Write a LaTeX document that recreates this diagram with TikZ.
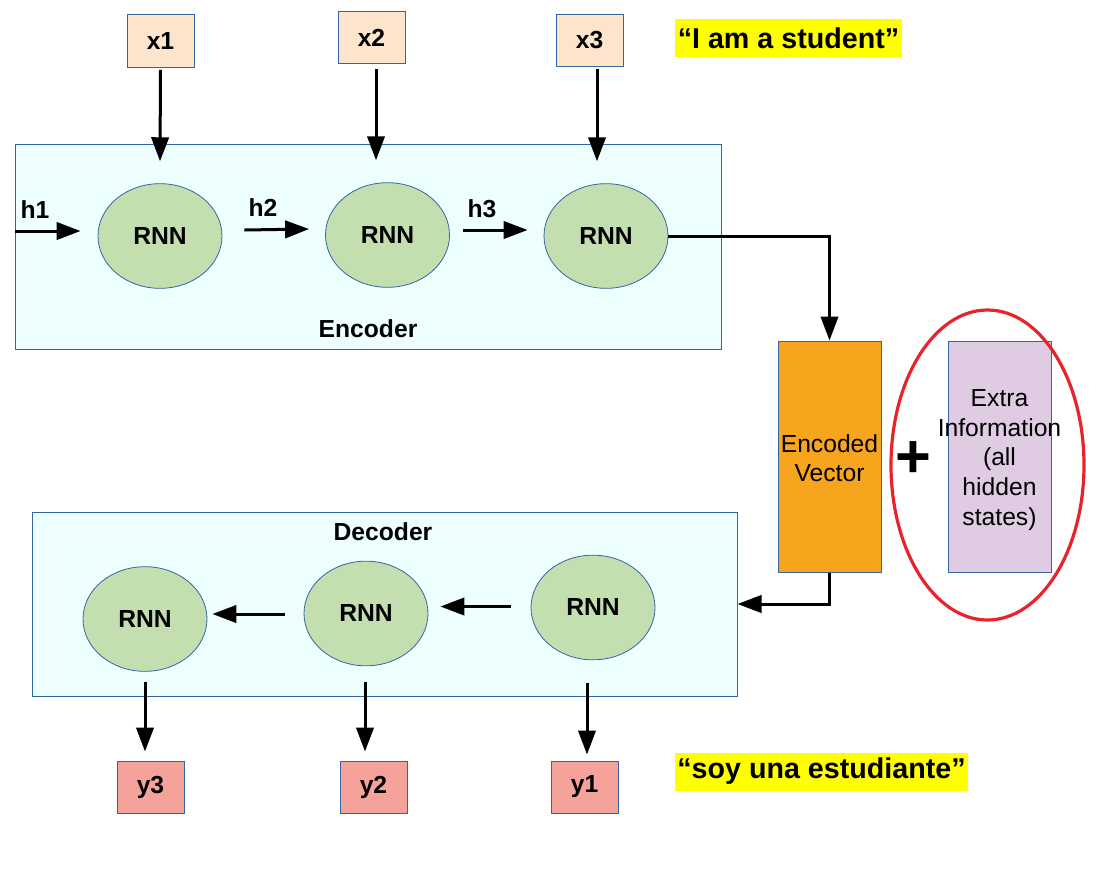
\documentclass[tikz,border=0pt]{standalone}
\usepackage{fontspec}
\setmainfont{Liberation Sans}
\usetikzlibrary{arrows.meta,calc,shapes.geometric}
\definecolor{encbg}{HTML}{EEFFFF}
\definecolor{boxline}{HTML}{3465A4}
\definecolor{xfill}{HTML}{FDE5CD}
\definecolor{rnnfill}{HTML}{C3DFAF}
\definecolor{encvec}{HTML}{F6A51D}
\definecolor{extrafill}{HTML}{DFCCE3}
\definecolor{yfill}{HTML}{F5A29A}
\definecolor{quoteyel}{HTML}{FFFF00}
\definecolor{ringred}{HTML}{E7232B}
\begin{document}
\begin{tikzpicture}[x=0.75pt,y=-0.75pt,
  lbl/.style={font=\fontsize{18.5}{22}\selectfont\bfseries, inner sep=0pt},
  plain/.style={font=\fontsize{18.5}{22.2}\selectfont, inner sep=0pt, align=center},
  panel/.style={draw=boxline, line width=0.75pt, fill=encbg, inner sep=0pt},
  inbox/.style={draw=boxline, line width=0.75pt, fill=xfill, minimum width=50.25pt, minimum height=39.5pt, inner sep=0pt, font=\fontsize{18.5}{22}\selectfont\bfseries},
  outbox/.style={draw=boxline, line width=0.75pt, fill=yfill, minimum width=50.25pt, minimum height=39pt, inner sep=0pt, font=\fontsize{18.5}{22}\selectfont\bfseries},
  rnn/.style={ellipse, draw=boxline, line width=0.6pt, fill=rnnfill, minimum width=93pt, minimum height=78.5pt, inner sep=0pt, font=\fontsize{18.5}{22}\selectfont\bfseries},
  tallbox/.style={draw=boxline, line width=0.75pt, minimum width=77.25pt, minimum height=173.25pt, inner sep=0pt},
  quote/.style={fill=quoteyel, inner xsep=2pt, inner ysep=0pt, minimum height=28.5pt, font=\fontsize{21.5}{24}\selectfont\bfseries},
  arr/.style={line width=2.25pt, -{Triangle[length=18pt,width=13pt]}}
]
\useasboundingbox (0,0) rectangle (1104,883);

% panels
\node[panel, minimum width=529.5pt, minimum height=153.75pt] (encoder) at (368,246.5) {};
\node[panel, minimum width=528.75pt, minimum height=138pt] (decoder) at (384.5,604) {};
\node[lbl] (enclbl) at (368,329) {Encoder};
\node[lbl] (declbl) at (383,532) {Decoder};

% inputs
\node[inbox] (x1) at (160.5,41) {x1};
\node[inbox] (x2) at (371.5,37.5) {x2};
\node[inbox] (x3) at (589.5,40.5) {x3};

% encoder RNNs
\node[rnn] (e1) at (160,236) {RNN};
\node[rnn] (e2) at (387.5,235) {RNN};
\node[rnn] (e3) at (606,236) {RNN};

% decoder RNNs
\node[rnn] (d1) at (145,619) {RNN};
\node[rnn] (d2) at (366,613.5) {RNN};
\node[rnn] (d3) at (593,607.5) {RNN};

% outputs
\node[outbox] (y3) at (150.5,787) {y3};
\node[outbox] (y2) at (373.5,787) {y2};
\node[outbox] (y1) at (584.5,787) {y1};

% encoded vector and extra information
\node[tallbox, fill=encvec] (enc) at (829.5,456.5) {};
\node[plain] (enctxt) at ($(enc.center)+(0,1.5)$) {Encoded\\Vector};
\node[tallbox, fill=extrafill] (extra) at (999.5,456.5) {};
\node[plain] (extratxt) at ($(extra.center)+(0,3.5)$) {Extra\\Information\\(all\\hidden\\states)};
\node[inner sep=0pt, font=\fontsize{46}{46}\selectfont\bfseries] (plus) at (913,460) {+};
\node[ellipse, draw=ringred, line width=2.4pt, minimum width=144.75pt, minimum height=232.5pt, inner sep=0pt] (ring) at (987.5,465) {};

% quotes
\node[quote] (q1) at (788.5,38) {“I am a student”};
\node[quote] (q2) at (821.5,771.5) {“soy una estudiante”};

% hidden state labels
\coordinate (hin) at (15,231);
\node[lbl] (h1) at (35,210) {h1};
\node[lbl] (h2) at (263,208) {h2};
\node[lbl] (h3) at (482,209) {h3};

% encoder arrows
\draw[arr] ($(x1.south)+(0,2)$) -- ($(e1.north)+(0,-22)$);
\draw[arr] ($(x2.south)+(4.5,5)$) -- ($(e2.north)+(-11.5,-22)$);
\draw[arr] ($(x3.south)+(7.5,2)$) -- ($(e3.north)+(-9,-22)$);
\draw[arr] (hin) -- ($(e1.west)+(-17,-5)$);
\draw[arr] ($(e1.east)+(22,-6)$) -- ($(e2.west)+(-16,-6)$);
\draw[arr] ($(e2.east)+(13,-5)$) -- ($(e3.west)+(-16,-6)$);
\draw[arr] (e3.east) -| (enc.north);

% decoder arrows
\draw[arr] (enc.south) |- (decoder.east);
\draw[arr] ($(d3.west)+(-20,-1)$) -- ($(d2.east)+(12,-7)$);
\draw[arr] ($(d2.west)+(-19,0.5)$) -- ($(d1.east)+(5,-5)$);
\draw[arr] ($(d1.south)+(0,10)$) -- ($(y3.north)+(-5.5,-9)$);
\draw[arr] ($(d2.south)+(-1,16)$) -- ($(y2.north)+(-8.5,-9)$);
\draw[arr] ($(d3.south)+(-6,23)$) -- ($(y1.north)+(2.5,-6)$);
\end{tikzpicture}
\end{document}
